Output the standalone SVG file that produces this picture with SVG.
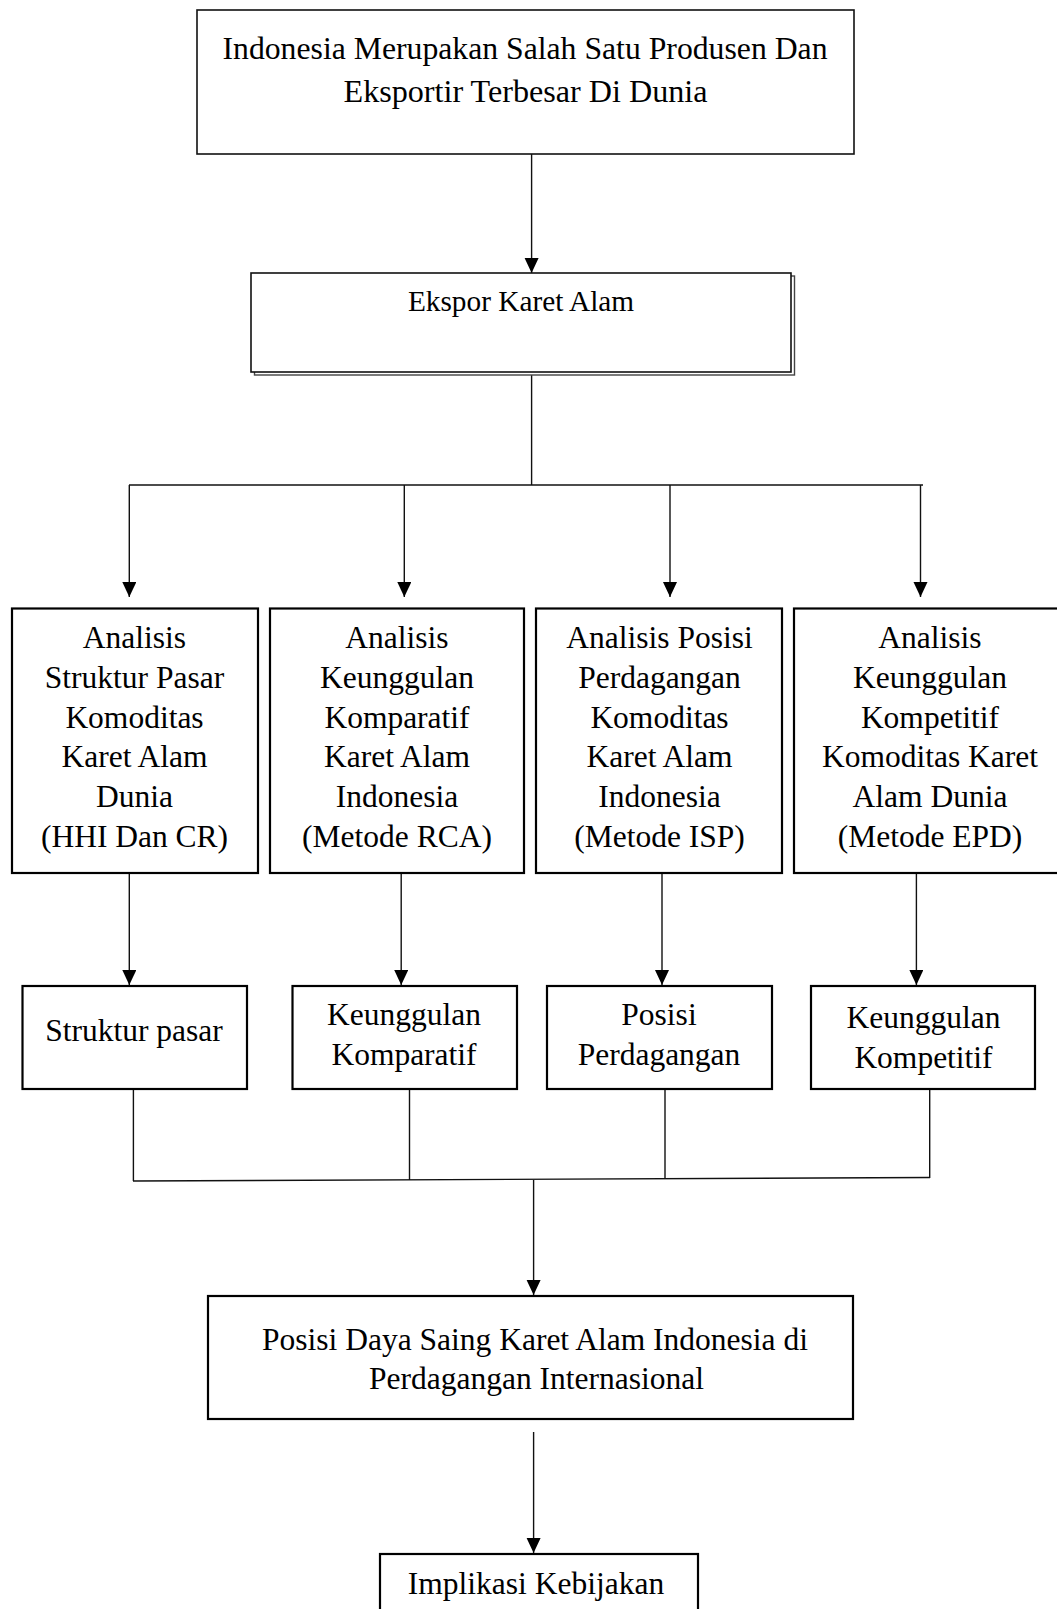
<svg xmlns="http://www.w3.org/2000/svg" width="1057" height="1609" viewBox="0 0 1057 1609">
<defs>
<marker id="arr" markerWidth="16" markerHeight="16" refX="15" refY="7" orient="auto" markerUnits="userSpaceOnUse">
<path d="M0,0 L15,7 L0,14 Z" fill="#000"/>
</marker>
<style>
.box{fill:#fff;stroke:#000;stroke-width:2.2}
.thin{fill:#fff;stroke:#111;stroke-width:1.6}
.line{fill:none;stroke:#111;stroke-width:1.4}
.arrow{fill:none;stroke:#111;stroke-width:1.4;marker-end:url(#arr)}
text{font-family:"Liberation Serif","Times New Roman",serif;fill:#000;text-anchor:middle}
.t{font-size:31.5px}
</style>
</defs>
<rect width="1057" height="1609" fill="#fff"/>
<g id="connectors">
<line class="arrow" x1="531.6" y1="154" x2="531.6" y2="273"/>
<line class="line" x1="531.6" y1="375" x2="531.6" y2="485"/>
<line class="line" x1="129" y1="485" x2="923" y2="485"/>
<line class="arrow" x1="129.3" y1="485" x2="129.3" y2="597"/>
<line class="arrow" x1="404.3" y1="485" x2="404.3" y2="597"/>
<line class="arrow" x1="670" y1="485" x2="670" y2="597"/>
<line class="arrow" x1="920.5" y1="485" x2="920.5" y2="597"/>
<line class="arrow" x1="129.3" y1="873" x2="129.3" y2="985"/>
<line class="arrow" x1="401.2" y1="873" x2="401.2" y2="985"/>
<line class="arrow" x1="662" y1="873" x2="662" y2="985"/>
<line class="arrow" x1="916.4" y1="873" x2="916.4" y2="985"/>
<line class="line" x1="133.4" y1="1089" x2="133.4" y2="1181"/>
<line class="line" x1="409.5" y1="1089" x2="409.5" y2="1180"/>
<line class="line" x1="665" y1="1089" x2="665" y2="1179"/>
<line class="line" x1="929.7" y1="1089" x2="929.7" y2="1178"/>
<line class="line" x1="133" y1="1181" x2="930" y2="1177.5"/>
<line class="arrow" x1="533.6" y1="1180" x2="533.6" y2="1295"/>
<line class="arrow" x1="533.6" y1="1432" x2="533.6" y2="1553"/>
</g>
<g id="n-top">
<rect class="thin" x="197" y="10" width="657" height="144"/>
<text class="t" x="525" y="59" textLength="605" lengthAdjust="spacingAndGlyphs">Indonesia Merupakan Salah Satu Produsen Dan</text>
<text class="t" x="525.5" y="102" textLength="364" lengthAdjust="spacingAndGlyphs">Eksportir Terbesar Di Dunia</text>
</g>
<g id="n-ekspor">
<rect x="254.5" y="276" width="540" height="99" fill="#fff" stroke="#444" stroke-width="1.4"/>
<rect class="thin" x="251" y="273" width="540" height="99"/>
<text x="521" y="311" style="font-size:29.3px">Ekspor Karet Alam</text>
</g>
<g id="n-a1">
<rect class="box" x="12" y="608.5" width="246" height="264.5"/>
<text class="t" x="134.5"><tspan x="134.5" y="648">Analisis</tspan><tspan x="134.5" y="688">Struktur Pasar</tspan><tspan x="134.5" y="727.5">Komoditas</tspan><tspan x="134.5" y="767">Karet Alam</tspan><tspan x="134.5" y="807">Dunia</tspan><tspan x="134.5" y="846.5">(HHI Dan CR)</tspan></text>
</g>
<g id="n-a2">
<rect class="box" x="270" y="608.5" width="254" height="264.5"/>
<text class="t" x="397"><tspan x="397" y="648">Analisis</tspan><tspan x="397" y="688">Keunggulan</tspan><tspan x="397" y="727.5">Komparatif</tspan><tspan x="397" y="767">Karet Alam</tspan><tspan x="397" y="807">Indonesia</tspan><tspan x="397" y="846.5">(Metode RCA)</tspan></text>
</g>
<g id="n-a3">
<rect class="box" x="536" y="608.5" width="246" height="264.5"/>
<text class="t" x="659.5"><tspan x="659.5" y="648">Analisis Posisi</tspan><tspan x="659.5" y="688">Perdagangan</tspan><tspan x="659.5" y="727.5">Komoditas</tspan><tspan x="659.5" y="767">Karet Alam</tspan><tspan x="659.5" y="807">Indonesia</tspan><tspan x="659.5" y="846.5">(Metode ISP)</tspan></text>
</g>
<g id="n-a4">
<rect class="box" x="794" y="608.5" width="272" height="264.5"/>
<text class="t" x="930"><tspan x="930" y="648">Analisis</tspan><tspan x="930" y="688">Keunggulan</tspan><tspan x="930" y="727.5">Kompetitif</tspan><tspan x="930" y="767">Komoditas Karet</tspan><tspan x="930" y="807">Alam Dunia</tspan><tspan x="930" y="846.5">(Metode EPD)</tspan></text>
</g>
<g id="n-b1">
<rect class="box" x="22.5" y="986" width="224.5" height="103"/>
<text class="t" x="134" y="1041">Struktur pasar</text>
</g>
<g id="n-b2">
<rect class="box" x="292.5" y="986" width="224.5" height="103"/>
<text class="t" x="404"><tspan x="404" y="1025">Keunggulan</tspan><tspan x="404" y="1065">Komparatif</tspan></text>
</g>
<g id="n-b3">
<rect class="box" x="547" y="986" width="225" height="103"/>
<text class="t" x="659"><tspan x="659" y="1025">Posisi</tspan><tspan x="659" y="1065">Perdagangan</tspan></text>
</g>
<g id="n-b4">
<rect class="box" x="811" y="986" width="224" height="103"/>
<text class="t" x="923.5"><tspan x="923.5" y="1028">Keunggulan</tspan><tspan x="923.5" y="1068">Kompetitif</tspan></text>
</g>
<g id="n-posisi">
<rect class="box" x="208" y="1296" width="645" height="123"/>
<text class="t" x="535"><tspan x="535" y="1350">Posisi Daya Saing Karet Alam Indonesia di</tspan><tspan x="536.5" y="1389">Perdagangan Internasional</tspan></text>
</g>
<g id="n-implikasi">
<rect class="box" x="380" y="1554" width="318" height="70"/>
<text class="t" x="536" y="1594">Implikasi Kebijakan</text>
</g>
</svg>
